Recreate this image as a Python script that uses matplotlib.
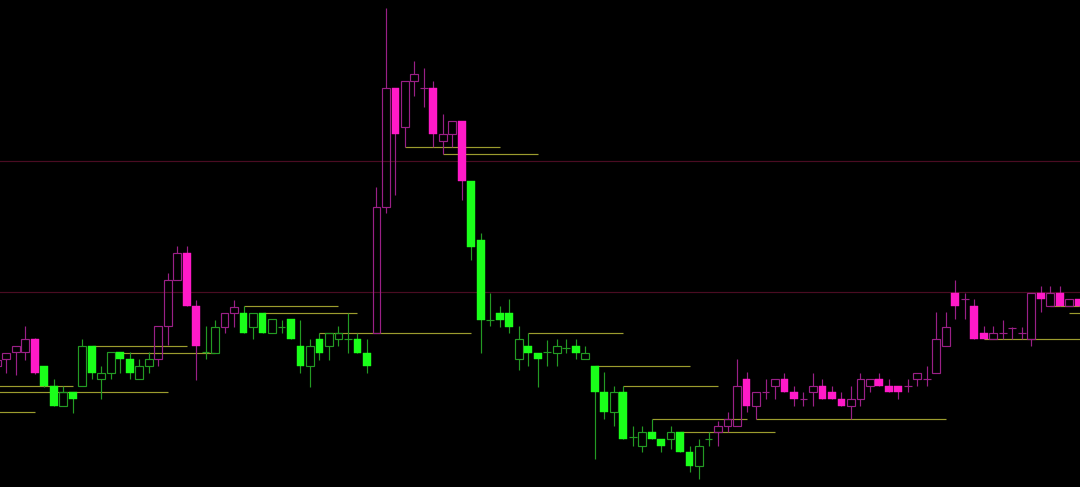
import numpy as np
import matplotlib
matplotlib.use("Agg")
import matplotlib.pyplot as plt
from matplotlib.patches import Rectangle

# ---------------- data (price units) ----------------
# candles indexed from -1 (partly off the left edge) to 113
regime = ("MMMMM" + "G" * 12 + "M" * 5 + "GG" + "MM" + "G" * 14 +
          "M" * 10 + "G" * 26 + "M" * 39)

open_ = [121, 127.7, 134.7, 134.7, 148, 121, 101.3, 81.3, 94.7, 101.3,
         141.3, 107.7, 114.3, 134.7, 127.7, 107.7, 121, 127.7, 161, 207,
         233.7, 181, 135, 134.3, 160.5, 173.7, 174, 160.3, 174, 153.7,
         160.3, 167.7, 141, 121, 147.7, 141, 147.7, 147.7, 147.7, 134.3,
         154.3, 280.3, 398.7, 359.7, 406, 398.7, 398.7, 346, 352.7, 366.3,
         306.3, 247, 167, 174.3, 174.3, 127.7, 141, 134.3, 135, 134.5,
         139, 141, 127.8, 121, 94.7, 74.7, 94.7, 50, 41.3, 54.7,
         48, 48, 54.7, 34.7, 21.3, 48, 54.7, 61.3, 61.3, 108,
         81.3, 94.7, 101.3, 107.7, 94.7, 88, 94.7, 101.3, 94.7, 88,
         81.3, 88, 101.3, 107.7, 101.3, 101.3, 101.3, 107.7, 107.7, 114.5,
         141, 194.3, 187.7, 181, 154.3, 148, 154.3, 159, 154.3, 148,
         194.3, 181, 194.3, 181, 187.7]
high = [132, 134.3, 141.3, 161, 149, 121, 107.7, 101, 94.7, 148.3,
        141.3, 121, 134.7, 134.7, 134.7, 127.7, 134.7, 161, 213.7, 241,
        241, 187, 161, 167.5, 174, 187.3, 181, 173.7, 174, 167.7,
        167, 167.7, 167, 147.7, 154, 154, 160.7, 173.7, 153.7, 147.7,
        299.7, 478.7, 398.7, 406, 426, 419, 406, 372.7, 366.3, 366.3,
        306.3, 253.7, 194, 181, 187.7, 161, 153.7, 134.3, 147.5, 147.7,
        147.7, 147.7, 141, 121, 114.7, 101.3, 101.3, 61.3, 61.3, 68,
        48, 61.3, 54.7, 41.3, 48, 54.7, 66, 74.7, 128, 114.7,
        94.7, 108, 108, 114.5, 101.3, 94.7, 114.5, 108, 101.3, 94.7,
        101.3, 114.5, 107.7, 114.5, 107.7, 101.3, 107.7, 114.5, 121, 174.7,
        174.7, 207, 194.3, 187.7, 161, 161, 167, 160.3, 160.3, 194.3,
        201, 201, 201, 187.7, 187.7]
low = [114, 114, 112, 127, 113, 100, 81.3, 81.3, 74, 101.3,
       107.7, 88, 107.7, 114.3, 107.7, 107.7, 114.3, 121, 142, 207,
       181, 107, 128, 134.3, 154, 160.5, 154, 147.7, 153.7, 153.7,
       153.7, 147.7, 114, 100.5, 127.3, 127, 140.7, 134.3, 134.3, 114.3,
       154.3, 273.7, 292, 340.3, 391, 380, 340.3, 333, 339.7, 287,
       227.3, 134.3, 161, 160.3, 153.7, 117, 121, 100, 121, 121,
       134.3, 127.7, 127.8, 28, 68, 61.3, 48.5, 41.3, 34.7, 48,
       34.7, 38, 34.7, 14.7, 8, 41.3, 41.3, 54.7, 61.3, 74.7,
       68, 88, 88, 94.7, 81.3, 81.3, 81.3, 88, 88, 81.3,
       68, 81.3, 94.7, 101.3, 94.7, 88, 94.7, 101.3, 101.3, 114.5,
       141, 168, 168, 148, 148, 148, 148, 148, 148, 141,
       174.7, 181, 181, 181, 181]
close = [127, 134.3, 141.3, 148, 114.3, 101.3, 81.3, 94.7, 88, 141.3,
         114.3, 114.3, 134.7, 127.7, 114.3, 121, 127.7, 161, 207, 233.7,
         181, 141, 135.3, 160.5, 174, 180.5, 154, 173.7, 153.7, 167.7,
         160.5, 147.7, 121, 141, 134.3, 154, 154.3, 147.8, 134.3, 121,
         280.3, 398.7, 352.7, 406, 412.7, 398.8, 352.7, 352.7, 366.3, 306.3,
         240.3, 167, 167.2, 167, 160.3, 147.7, 134.3, 127.7, 135.2, 141,
         139.2, 134.3, 134.5, 94.7, 74.7, 94.7, 48.5, 50.2, 54.7, 48,
         41.3, 54.7, 34.7, 21.3, 41.3, 48.2, 61.3, 68, 101.3, 81.3,
         94.7, 94.8, 108, 94.7, 88, 88.1, 101.3, 88, 88, 81.3,
         88, 107.7, 107.7, 101.3, 94.7, 94.7, 101.4, 114.5, 107.8, 148,
         160.3, 181, 187.8, 148, 148, 154.3, 154.4, 159.1, 154.4, 194.3,
         187.7, 194.3, 181, 187.7, 181]

# support / resistance segments: level, first bar, last bar
level_price = [101.3, 94.7, 74.7, 141.3, 134.3, 181, 174.3, 154.3, 339.7, 333,
               153.7, 121, 101.3, 68, 54.7, 68, 148, 181, 174.3]
level_start = [-2, -2, -2, 9, 12, 25, 27, 33, 42, 46,
               55, 62, 65, 68, 71, 79, 103, 110, 112]
level_end = [7, 17, 3, 19, 22, 35, 37, 49, 52, 56,
             65, 72, 75, 78, 81, 99, 115, 115, 115]

zone_lines = [326, 195]

# ---------------- drawing ----------------
BRIGHT = {"M": "#ff1ac8", "G": "#1aff1a"}
DIM = {"M": "#9a2086", "G": "#239a23"}
OLIVE = "#9c9c2e"
PX = 0.85
W = 0.82

fig = plt.figure(figsize=(10.8, 4.87), dpi=100, facecolor="black")
ax = fig.add_axes([0, 0, 1, 1])
ax.set_facecolor("black")
ax.axis("off")

xs = np.arange(-1, -1 + len(open_))

for y in zone_lines:
    ax.axhline(y, color="#4a0c22", lw=PX, zorder=1)

for p, s, e in zip(level_price, level_start, level_end):
    ax.hlines(p, s, e, color=OLIVE, lw=PX, zorder=1)

for x, r, o, h, l, c in zip(xs, regime, open_, high, low, close):
    top, bot = max(o, c), min(o, c)
    dim, bright = DIM[r], BRIGHT[r]
    if abs(c - o) < 0.5:
        ax.vlines(x, l, h, color=dim, lw=PX, zorder=2)
        ax.hlines(o, x - W / 2, x + W / 2, color=dim, lw=PX, zorder=2)
    elif c > o:
        if h > top:
            ax.vlines(x, top, h, color=dim, lw=PX, zorder=2)
        if l < bot:
            ax.vlines(x, l, bot, color=dim, lw=PX, zorder=2)
        ax.add_patch(Rectangle((x - W / 2, bot), W, top - bot, fill=False,
                               edgecolor=dim, lw=PX, zorder=3))
    else:
        ax.vlines(x, l, h, color=dim, lw=PX, zorder=2)
        ax.add_patch(Rectangle((x - W / 2, bot), W, top - bot,
                               facecolor=bright, edgecolor=bright, lw=0.3,
                               zorder=3))

ax.set_xlim(-0.664, 113.14)
ax.set_ylim(0, 487)

fig.savefig("out.png", dpi=100, facecolor="black")
